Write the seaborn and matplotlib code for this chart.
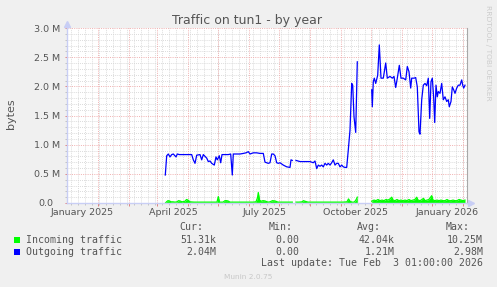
import numpy as np
import pandas as pd
import matplotlib
matplotlib.use("Agg")
import matplotlib.pyplot as plt
import seaborn as sns
from matplotlib.patches import Rectangle
from matplotlib.transforms import ScaledTranslation, blended_transform_factory

# ---------------- data (days since 2025-01-01, values in M bytes) ----------------
out_days = [67.3, 68.7, 70.3, 72, 73.7, 75.3, 78, 79.3, 81.3, 83.7, 87, 90.3, 93.7, 95.3, 97, 98.7,
            102, 103.7, 105.3, 108.7, 110.3, 112, 113.7, 116.3, 118, 119.3, 121.3, 122.7, 124, 127,
            130.3, 132.7, 134.3, 135.3, 138.7, 142, 145.3, 148, 150.3, 152, 155.3, 158.7, 162, 165.3,
            167, 170.3, 172, 173.7, 175.3, 177, 178.7, 180.3, 182, 185.3, 188.7, 192, 193, 194.3, 196,
            198, 202, 205.3, 208.7, 212, 215.3, 217, 218.7, 220.3, 222, 223.7, 225.3, 227, 228.7,
            230.3, 232, 233.7, 235.3, 237, 238.7, 240.3, 242, 243.7, 245.3, 247, 248.7, 250.3, 252,
            253.7, 254.7, 256, 257.7, 259.3, 266,
            273.7, 274.3, 275.3, 276.3, 277.7, 279.7, 281.3, 283, 285.3, 287.7, 289.3, 292, 294.3,
            296, 297.7, 299.3, 301.3, 303, 305.3, 307.7, 309.3, 311, 312.7, 313.7, 316, 317.7, 319.3,
            321, 322, 323.7, 325.3, 327, 328.7, 330.3, 331.7, 333, 334.3, 335.7, 336.7, 338, 339.3,
            340.3, 342, 343.7, 345.3, 347, 348.7, 350.3, 351.3, 353, 354.3, 355.7, 357, 358.7, 360.3,
            362, 363.7, 364.7, 365.7, 367]
out_vals = [0.48, 0.81, 0.84, 0.79, 0.83, 0.84, 0.79, 0.84, 0.83, 0.83, 0.83, 0.83, 0.83, 0.74, 0.68, 0.82,
            0.83, 0.74, 0.83, 0.77, 0.71, 0.72, 0.68, 0.65, 0.79, 0.74, 0.81, 0.69, 0.83, 0.83,
            0.83, 0.84, 0.48, 0.84, 0.84, 0.84, 0.85, 0.86, 0.88, 0.84, 0.86, 0.86, 0.85, 0.85,
            0.70, 0.68, 0.69, 0.84, 0.84, 0.81, 0.69, 0.68, 0.69, 0.65, 0.62, 0.61, 0.74, 0.73, np.nan,
            0.73, 0.71, 0.71, 0.71, 0.71, 0.69, 0.72, 0.59, 0.65, 0.63, 0.65, 0.62, 0.68, 0.65,
            0.68, 0.65, 0.69, 0.74, 0.65, 0.68, 0.68, 0.62, 0.65, 0.62, 0.61, 0.61, 0.91, 1.25,
            2.05, 2.02, 1.48, 1.21, 2.42, np.nan,
            1.94, 1.65, 2.08, 2.14, 2.05, 2.19, 2.71, 2.14, 2.14, 2.40, 2.14, 2.17, 2.14,
            2.17, 1.98, 2.14, 2.36, 2.14, 2.14, 2.11, 2.34, 2.25, 1.97, 2.14, 2.14, 2.15, 1.99,
            1.22, 1.18, 1.77, 2.02, 2.05, 2.01, 2.14, 1.45, 2.08, 2.14, 1.80, 1.38, 2.02, 1.82,
            1.91, 1.88, 2.05, 1.77, 1.82, 1.74, 1.77, 1.65, 1.74, 1.99, 1.94, 1.88, 1.97, 2.02,
            2.02, 2.11, 2.02, 1.97, 2.02]

in_days = [67.5, 68.5, 70, 71.5, 73, 75, 77, 79, 80.5, 82, 84, 87, 88.5, 90, 92, 96, 100, 105, 110,
           115, 119, 120.3, 121.5, 125, 127, 128.5, 130, 132, 136, 140, 145, 150, 155, 158, 159.5,
           160.3, 161.5, 163, 165, 167, 170, 172, 174.5, 177, 180, 185, 190, 194.3, 196,
           198, 201, 204, 205.5, 207, 210, 215, 220, 225, 230, 235, 240, 245, 249, 250.5, 252, 254,
           256, 257.5, 258.5, 259.3, 266,
           273.7, 276, 278, 280, 282, 284, 286, 288, 290, 292, 293.7, 295, 297, 299, 301, 303, 305,
           307, 309, 311, 313, 315, 317, 318.7, 320, 322, 324, 325.5, 327, 329, 331, 333.7, 335,
           337, 339, 341, 343, 345, 347, 349, 351, 353, 355, 357, 359, 361, 363, 365, 367]
in_vals = [0.0, 0.02, 0.04, 0.035, 0.02, 0.02, 0.015, 0.02, 0.04, 0.035, 0.02, 0.03, 0.06, 0.05, 0.02,
           0.015, 0.015, 0.015, 0.015, 0.015, 0.015, 0.11, 0.015, 0.015, 0.04, 0.04, 0.035, 0.015,
           0.015, 0.015, 0.015, 0.015, 0.015, 0.02, 0.09, 0.18, 0.05, 0.03, 0.04, 0.035, 0.015, 0.02,
           0.04, 0.035, 0.015, 0.015, 0.015, 0.015, np.nan,
           0.015, 0.015, 0.02, 0.04, 0.03, 0.015, 0.015, 0.015, 0.015, 0.015, 0.015, 0.015, 0.015,
           0.02, 0.07, 0.03, 0.015, 0.015, 0.04, 0.07, 0.10, np.nan,
           0.03, 0.05, 0.04, 0.06, 0.04, 0.05, 0.04, 0.06, 0.05, 0.07, 0.10, 0.05, 0.04, 0.06, 0.04,
           0.05, 0.04, 0.05, 0.04, 0.06, 0.04, 0.05, 0.06, 0.10, 0.05, 0.04, 0.06, 0.08, 0.04, 0.05,
           0.06, 0.126, 0.05, 0.04, 0.05, 0.04, 0.05, 0.04, 0.04, 0.06, 0.04, 0.04, 0.05, 0.04,
           0.04, 0.06, 0.05, 0.04, 0.05]

month_days = [0, 31, 59, 90, 120, 151, 181, 212, 243, 273, 304, 334, 365]
label_days = [-15.5, 75, 166.5, 257.8, 349.5]
x_labels = ["January 2025", "April 2025", "July 2025", "October 2025", "January 2026"]
y_ticks = [0.0, 0.5, 1.0, 1.5, 2.0, 2.5, 3.0]
y_labels = ["0.0", "0.5 M", "1.0 M", "1.5 M", "2.0 M", "2.5 M", "3.0 M"]
legend_names = ["Incoming traffic", "Outgoing traffic"]
legend_cur = ["51.31k", "2.04M"]
legend_min = ["0.00", "0.00"]
legend_avg = ["42.04k", "1.21M"]
legend_max = ["10.25M", "2.98M"]
title = "Traffic on tun1 - by year"
y_title = "bytes"
last_update = "Last update: Tue Feb  3 01:00:00 2026"
version = "Munin 2.0.75"
watermark = "RRDTOOL / TOBI OETIKER"

GREEN = "#00ff00"
BLUE = "#0000ff"
TXT = "#555555"
AXC = "#c8cef5"
MINOR = "#d6d6d6"
MAJOR = "#f0b0b0"

W, H = 497, 287


def frame(days, vals):
    d = pd.DataFrame({"day": days, "val": vals})
    d["seg"] = d["val"].isna().cumsum()
    return d.dropna()


df_out = frame(out_days, out_vals)
df_in = frame(in_days, in_vals)

fig = plt.figure(figsize=(W / 100, H / 100), dpi=100, facecolor="#f0f0f0")
ax = fig.add_axes([67 / W, 1 - 203 / H, 400 / W, 175 / H])
ax.set_facecolor("white")
ax.set_xlim(-31, 369)
ax.set_ylim(0, 3.0)

dot = (0, (1, 1.3))
# minor grid
for yv in np.arange(0.1, 3.01, 0.1):
    if abs(yv / 0.5 - round(yv / 0.5)) > 1e-6:
        ax.axhline(yv, color=MINOR, lw=0.65, ls=dot, zorder=0)
for xv in range(-27, 369, 7):
    ax.axvline(xv, color=MINOR, lw=0.65, ls=dot, zorder=0)
# major grid
for yv in y_ticks[1:]:
    ax.axhline(yv, color=MAJOR, lw=0.7, ls=dot, zorder=0.5)
for xv in month_days:
    ax.axvline(xv, color=MAJOR, lw=0.7, ls=dot, zorder=0.5)

# series
for seg, d in df_in.groupby("seg"):
    ax.fill_between(d["day"], 0, d["val"], color=GREEN, lw=0, zorder=2)
sns.lineplot(data=df_in, x="day", y="val", units="seg", estimator=None, sort=False,
             color=GREEN, lw=0.9, ax=ax, legend=False, zorder=2)
sns.lineplot(data=df_out, x="day", y="val", units="seg", estimator=None, sort=False,
             color=BLUE, lw=0.9, ax=ax, legend=False, zorder=3)

ax.set_xlabel("")
ax.set_ylabel("")

# spines
ax.spines["top"].set_visible(False)
ax.spines["right"].set_color("#a8a8a8")
ax.spines["right"].set_linewidth(0.8)
for s in ("left", "bottom"):
    ax.spines[s].set_color(AXC)
    ax.spines[s].set_linewidth(1.0)
    ax.spines[s].set_zorder(4)

# arrows
ax.plot(0, 1 + 4 / 175, marker="^", ms=4.2, color=AXC, mec=AXC, transform=ax.transAxes, clip_on=False)
ax.plot([0, 0], [1, 1 + 3 / 175], color=AXC, lw=1, transform=ax.transAxes, clip_on=False)
ax.plot(1 + 4 / 400, 0, marker=">", ms=4.2, color=AXC, mec=AXC, transform=ax.transAxes, clip_on=False)
ax.plot([1, 1 + 3 / 400], [0, 0], color=AXC, lw=1, transform=ax.transAxes, clip_on=False)

# ticks
ax.set_xticks(month_days)
ax.set_xticklabels([])
ax.set_xticks(list(range(-27, 369, 7)), minor=True)
ax.tick_params(axis="x", which="major", length=2.2, width=0.7, color="#e08080", direction="out")
ax.tick_params(axis="x", which="minor", length=1.6, width=0.6, color="#bbbbbb", direction="out")
ax.set_yticks(y_ticks)
ax.set_yticklabels(y_labels)
ax.set_yticks(list(np.arange(0.1, 3.0, 0.1)), minor=True)
ax.tick_params(axis="y", which="major", length=1.6, width=0.7, color="#e08080", pad=3.2,
               labelsize=6.8, labelcolor=TXT)
ax.tick_params(axis="y", which="minor", length=1.6, width=0.6, color="#bbbbbb")
zero_lab = ax.get_yticklabels()[0]
zero_lab.set_transform(zero_lab.get_transform() + ScaledTranslation(-7 / 100, 0, fig.dpi_scale_trans))

xt = blended_transform_factory(ax.transData, fig.transFigure)
for d, lab in zip(label_days, x_labels):
    ax.text(d, 1 - 215 / H, lab, transform=xt, ha="center", va="baseline", fontsize=6.8, color=TXT)

# texts
fig.text(247.5 / W, 1 - 24.3 / H, title, ha="center", va="baseline", fontsize=9, color=TXT)
fig.text(11 / W, 1 - 113.5 / H, y_title, ha="center", va="center", rotation=90, fontsize=8, color=TXT)
fig.text(488 / W, 1 - 5 / H, watermark, ha="center", va="top", rotation=270, fontsize=5.4, color="#cccccc")

mono = dict(family="DejaVu Sans Mono", fontsize=7.1, color=TXT)
hy = 1 - 230.5 / H
fig.text(203.7 / W, hy, "Cur:", ha="right", va="baseline", **mono)
fig.text(293 / W, hy, "Min:", ha="right", va="baseline", **mono)
fig.text(381 / W, hy, "Avg:", ha="right", va="baseline", **mono)
fig.text(470 / W, hy, "Max:", ha="right", va="baseline", **mono)
row_base = [242.6, 254.8]
sq_top = [237.3, 249.3]
for i, (name, col) in enumerate(zip(legend_names, [GREEN, BLUE])):
    yb = 1 - row_base[i] / H
    fig.patches.append(Rectangle((14.3 / W, 1 - (sq_top[i] + 5.5) / H), 5.7 / W, 5.5 / H,
                                 transform=fig.transFigure, color=col, lw=0))
    fig.text(26.3 / W, yb, name, ha="left", va="baseline", **mono)
    fig.text(216.7 / W, yb, legend_cur[i], ha="right", va="baseline", **mono)
    fig.text(299 / W, yb, legend_min[i], ha="right", va="baseline", **mono)
    fig.text(394.3 / W, yb, legend_avg[i], ha="right", va="baseline", **mono)
    fig.text(483 / W, yb, legend_max[i], ha="right", va="baseline", **mono)
fig.text(483 / W, 1 - 266.5 / H, last_update, ha="right", va="baseline", **mono)
fig.text(248 / W, 1 - 279 / H, version, ha="center", va="baseline", fontsize=5.3, color="#c8c8c8")

fig.savefig("out.png", dpi=100, facecolor=fig.get_facecolor())
